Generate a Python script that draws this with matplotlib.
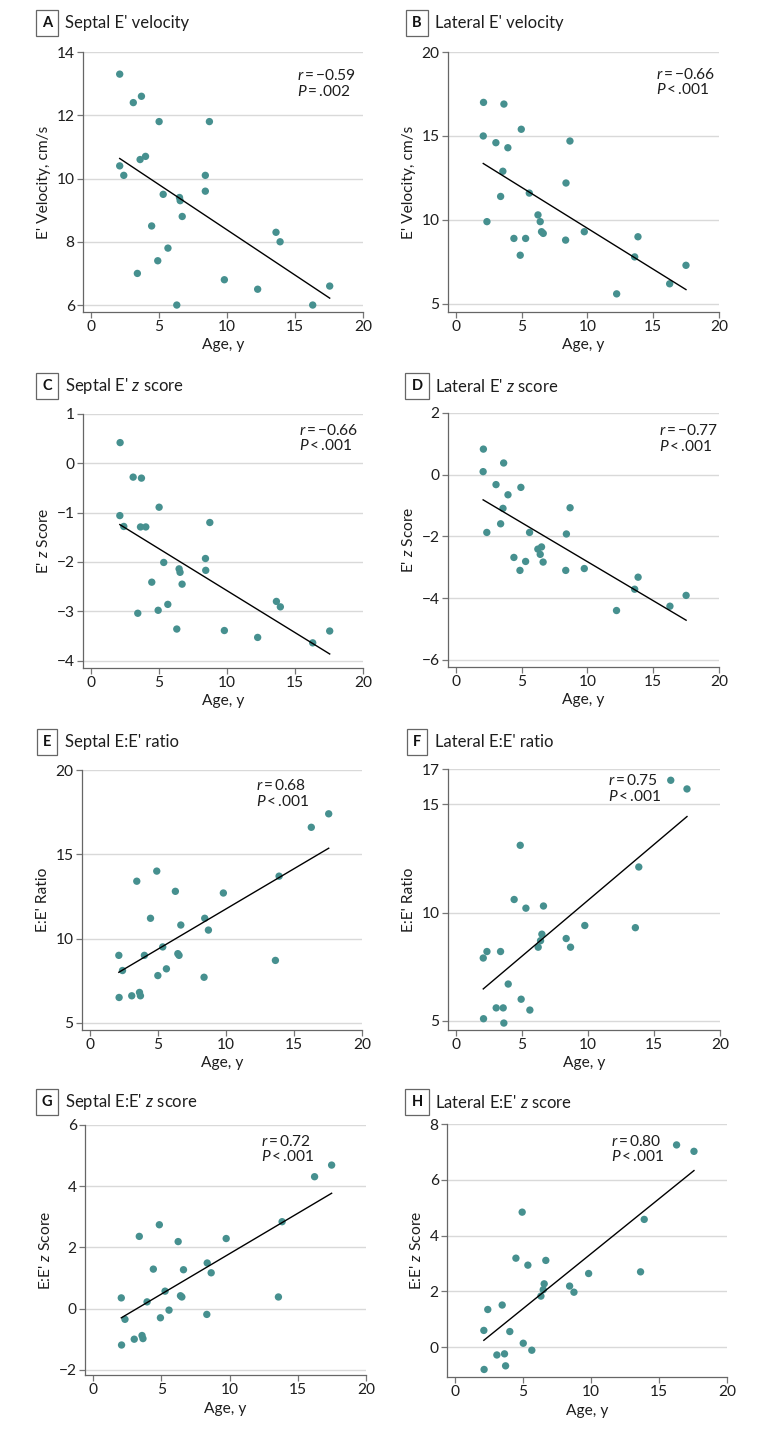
import numpy as np
import matplotlib
matplotlib.use('Agg')
import matplotlib.pyplot as plt

plt.rcParams['font.family'] = ['Lato', 'DejaVu Sans']
plt.rcParams['mathtext.fontset'] = 'custom'
plt.rcParams['mathtext.rm'] = 'Lato'
plt.rcParams['mathtext.it'] = 'Lato:italic'

# ---- data (age in years, value per panel) ----
a_age = [2.1, 3.1, 3.7, 5.0, 8.7, 2.1, 3.6, 4.0, 2.4, 8.4, 5.3, 8.4, 6.5, 6.55, 6.7,
         4.45, 5.65, 4.9, 3.4, 6.3, 9.8, 12.25, 13.6, 13.9, 16.3, 17.55]
a_val = [13.3, 12.4, 12.6, 11.8, 11.8, 10.4, 10.6, 10.7, 10.1, 10.1, 9.5, 9.6, 9.4, 9.3, 8.8,
         8.5, 7.8, 7.4, 7.0, 6.0, 6.8, 6.5, 8.3, 8.0, 6.0, 6.6]

b_age = [2.1, 2.08, 3.65, 3.04, 3.95, 4.97, 3.57, 8.67, 8.37, 3.4, 5.58, 2.36, 6.24, 6.41, 6.51,
         6.64, 4.41, 5.3, 4.89, 8.34, 9.76, 12.22, 13.84, 13.59, 16.25, 17.49]
b_val = [17.0, 15.0, 16.9, 14.6, 14.3, 15.4, 12.9, 14.7, 12.2, 11.4, 11.6, 9.9, 10.3, 9.9, 9.3,
         9.2, 8.9, 8.9, 7.9, 8.8, 9.3, 5.6, 9.0, 7.8, 6.2, 7.3]

c_age = [2.13, 3.09, 3.7, 5.0, 2.11, 2.4, 3.63, 4.02, 8.73, 5.34, 8.41, 8.43, 6.47, 6.54, 6.69,
         4.46, 5.64, 4.93, 3.43, 6.3, 9.8, 12.25, 13.63, 13.92, 16.3, 17.55]
c_val = [0.42, -0.28, -0.30, -0.89, -1.06, -1.28, -1.29, -1.29, -1.20, -2.01, -1.93, -2.17, -2.14,
         -2.21, -2.45, -2.41, -2.86, -2.98, -3.04, -3.36, -3.39, -3.53, -2.80, -2.91, -3.64, -3.40]

d_age = [2.09, 2.07, 3.63, 3.05, 3.96, 4.94, 3.58, 8.68, 3.4, 2.35, 5.6, 8.4, 6.23, 6.51, 6.41,
         6.63, 4.41, 5.3, 4.87, 8.35, 9.76, 12.21, 13.85, 13.59, 16.27, 17.5]
d_val = [0.83, 0.10, 0.38, -0.32, -0.65, -0.41, -1.09, -1.07, -1.59, -1.87, -1.87, -1.92, -2.41,
         -2.34, -2.58, -2.83, -2.68, -2.81, -3.10, -3.10, -3.04, -4.40, -3.32, -3.71, -4.26, -3.91]

e_age = [17.55, 16.27, 13.9, 13.63, 9.8, 8.43, 8.7, 8.38, 6.27, 6.67, 6.45, 6.54, 4.9, 4.44, 5.34,
         5.61, 4.98, 3.43, 3.99, 3.63, 3.7, 3.06, 2.11, 2.38, 2.13]
e_val = [17.4, 16.6, 13.7, 8.7, 12.7, 11.2, 10.5, 7.7, 12.8, 10.8, 9.1, 9.0, 14.0, 11.2, 9.5,
         8.2, 7.8, 13.4, 9.0, 6.8, 6.6, 6.6, 9.0, 8.1, 6.5]

f_age = [16.27, 17.5, 13.85, 13.59, 9.76, 8.35, 8.68, 6.51, 6.41, 6.23, 6.63, 4.87, 4.41, 5.3,
         4.94, 5.6, 3.96, 3.58, 3.63, 3.05, 3.38, 2.35, 2.07, 2.09]
f_val = [16.1, 15.7, 12.1, 9.3, 9.4, 8.8, 8.4, 9.0, 8.7, 8.4, 10.3, 13.1, 10.6, 10.2,
         6.0, 5.5, 6.7, 5.6, 4.9, 5.6, 8.2, 8.2, 7.9, 5.1]

g_age = [17.48, 16.23, 13.85, 13.58, 9.75, 8.36, 8.65, 8.33, 6.23, 6.62, 6.4, 6.5, 4.85, 4.41,
         5.27, 5.56, 4.93, 3.38, 3.95, 3.58, 3.65, 3.01, 2.06, 2.33, 2.08]
g_val = [4.69, 4.31, 2.84, 0.38, 2.29, 1.49, 1.17, -0.19, 2.19, 1.27, 0.42, 0.38, 2.74, 1.29,
         0.57, -0.05, -0.30, 2.36, 0.22, -0.88, -0.98, -1.00, 0.35, -0.35, -1.19]

h_age = [16.29, 17.57, 13.91, 13.64, 9.82, 8.42, 8.74, 6.55, 6.48, 6.31, 6.67, 4.93, 4.47, 5.35,
         5.01, 5.64, 4.02, 3.46, 3.63, 3.71, 3.07, 2.4, 2.11, 2.13]
h_val = [7.25, 7.02, 4.58, 2.70, 2.64, 2.19, 1.97, 2.27, 2.06, 1.83, 3.11, 4.84, 3.19, 2.94,
         0.14, -0.11, 0.56, 1.51, -0.24, -0.67, -0.28, 1.35, 0.60, -0.80]

letters = ['A', 'B', 'C', 'D', 'E', 'F', 'G', 'H']
titles = ["Septal E' velocity", "Lateral E' velocity", "Septal E' $z$ score", "Lateral E' $z$ score",
          "Septal E:E' ratio", "Lateral E:E' ratio", "Septal E:E' $z$ score", "Lateral E:E' $z$ score"]
ylabels = ["E' Velocity, cm/s", "E' Velocity, cm/s", "E' $z$ Score", "E' $z$ Score",
           "E:E' Ratio", "E:E' Ratio", "E:E' $z$ Score", "E:E' $z$ Score"]
r_text = ['\u22120.59', '\u22120.66', '\u22120.66', '\u22120.77', '0.68', '0.75', '0.72', '0.80']
p_text = ['= .002', '< .001', '< .001', '< .001', '< .001', '< .001', '< .001', '< .001']
yticks = [[6, 8, 10, 12, 14], [5, 10, 15, 20], [-4, -3, -2, -1, 0, 1], [-6, -4, -2, 0, 2],
          [5, 10, 15, 20], [5, 10, 15, 16.62], [-2, 0, 2, 4, 6], [0, 2, 4, 6, 8]]
yticklabels = [None, None, None, None, None, ['5', '10', '15', '17'], None, None]

ages = [a_age, b_age, c_age, d_age, e_age, f_age, g_age, h_age]
vals = [a_val, b_val, c_val, d_val, e_val, f_val, g_val, h_val]

W, H = 783, 1431
# axes boxes in pixels: left, top, right, bottom
boxes = [(83, 52, 363, 312), (448, 52, 719, 312),
         (83, 414, 363, 668), (448, 413, 719, 667),
         (82, 770, 362, 1030), (448, 769, 720, 1030),
         (85, 1125, 366, 1375), (447, 1124, 727, 1377)]
ylims = [(5.78, 14), (4.52, 20), (-4.15, 1), (-6.23, 2),
         (4.57, 20), (4.58, 16.62), (-2.17, 6), (-1.07, 8)]
txt_pos = [(0.765, 0.91), (0.766, 0.915), (0.77, 0.935), (0.78, 0.93),
           (0.62, 0.94), (0.59, 0.955), (0.625, 0.935), (0.586, 0.93)]
title_y = [23, 386, 742, 1102]

dot = '#46908f'
ink = '#1e1e1e'
fs = 11.2
fig = plt.figure(figsize=(W / 100, H / 100), dpi=100)

for i in range(8):
    l, t, r, b = boxes[i]
    ax = fig.add_axes([l / W, 1 - b / H, (r - l) / W, (b - t) / H])
    x = np.array(ages[i])
    y = np.array(vals[i])
    ax.scatter(x, y, s=28, color=dot, edgecolor='none', zorder=3, clip_on=False)
    k, c0 = np.polyfit(x, y, 1)
    xx = np.array([x.min(), x.max()])
    ax.plot(xx, k * xx + c0, color='k', lw=1, zorder=4)

    ax.set_xlim(-0.6, 20)
    ax.set_ylim(*ylims[i])
    ax.set_xticks([0, 5, 10, 15, 20])
    ax.set_yticks(yticks[i])
    if yticklabels[i] is not None:
        ax.set_yticklabels(yticklabels[i])
    ax.grid(axis='y', color='#d9d9d9', lw=1)
    ax.set_axisbelow(True)
    for s in ['top', 'right']:
        ax.spines[s].set_visible(False)
    for s in ['left', 'bottom']:
        ax.spines[s].set_color('#666666')
        ax.spines[s].set_linewidth(0.9)
    ax.tick_params(length=4, width=0.9, color='#777777', labelsize=fs, labelcolor=ink, pad=2)
    ax.set_xlabel('Age, y', fontsize=fs, color=ink, labelpad=3)
    ax.set_ylabel(ylabels[i], fontsize=fs, color=ink, labelpad=4)

    tx, ty = txt_pos[i]
    ax.text(tx, ty, '$r$\u2009=\u2009' + r_text[i], transform=ax.transAxes, fontsize=fs,
            color=ink, va='center')
    ax.text(tx, ty - 0.06, '$P$\u2009' + p_text[i].replace(' ', '\u2009'), transform=ax.transAxes,
            fontsize=fs, color=ink, va='center')

    # panel letter box and title
    bx = 47 if i % 2 == 0 else 417
    ty_px = title_y[i // 2]
    fig.text(bx / W, 1 - ty_px / H, letters[i], fontsize=10.5, fontweight='bold', ha='center', va='center',
             color='#111111',
             bbox=dict(boxstyle='square,pad=0.42', fc='white', ec='#666666', lw=0.9))
    fig.text((bx + 18) / W, 1 - ty_px / H, titles[i], fontsize=12, ha='left', va='center', color=ink)

fig.savefig('out.png', dpi=100)
